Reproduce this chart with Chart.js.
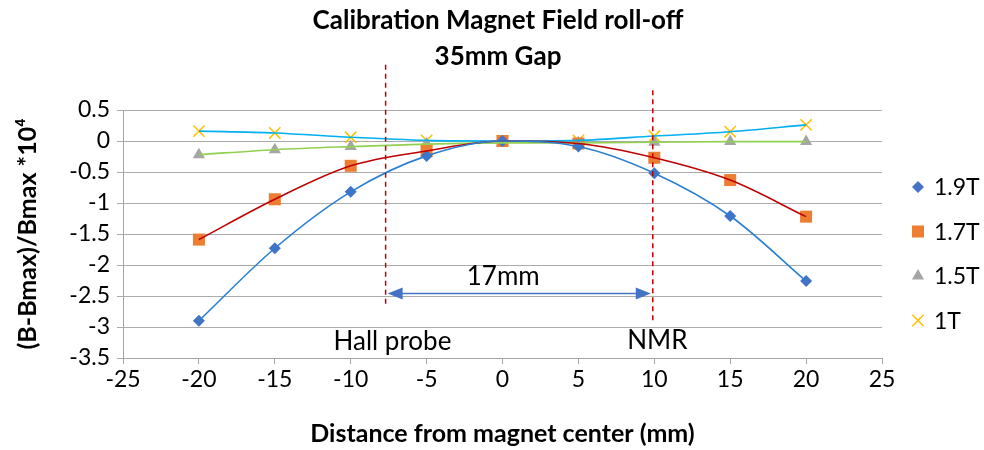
<!DOCTYPE html>
<html>
<head>
<meta charset="utf-8">
<script src="https://cdn.jsdelivr.net/npm/chart.js@4/dist/chart.umd.min.js"></script>
<style>
  body { margin: 0; background: #fff; }
  #c { display: block; }
</style>
</head>
<body>
<canvas id="c" width="984" height="450"></canvas>
<script>
// distance from magnet center (mm)
var positions = [-20, -15, -10, -5, 0, 5, 10, 15, 20];

// (B-Bmax)/Bmax * 10^4 for each field setting
var field19 = [-2.9, -1.73, -0.82, -0.24, 0, -0.09, -0.52, -1.21, -2.26];
var field17 = [-1.59, -0.94, -0.4, -0.16, 0, -0.04, -0.27, -0.63, -1.22];
var field15 = [-0.22, -0.14, -0.09, -0.05, -0.03, -0.03, -0.02, -0.01, -0.01];
var field10 = [0.16, 0.13, 0.06, 0.01, 0, 0.01, 0.08, 0.15, 0.26];

var seriesNames = ['1.9T', '1.7T', '1.5T', '1T'];
var markerColors = ['#4472C4', '#ED7D31', '#A5A5A5', '#FFC000'];
var trendColors = ['#2B7FD3', '#C00000', '#92D050', '#00B0F0'];
var markerStyles = ['rectRot', 'rect', 'triangle', 'crossRot'];
var markerSizes = [6, 8.5, 7, 8];

// probe positions and the annotation labels
var hallProbeX = -7.7;
var nmrX = 9.9;
var gapLabel = '17mm';

function pts(vals) {
  return positions.map(function(x, i) { return {x: x, y: vals[i]}; });
}

var allSeries = [field19, field17, field15, field10];
var datasets = [];
allSeries.forEach(function(vals, i) {
  datasets.push({
    label: seriesNames[i],
    data: pts(vals),
    showLine: false,
    pointStyle: markerStyles[i],
    pointRadius: markerSizes[i],
    pointHoverRadius: markerSizes[i],
    pointBackgroundColor: markerColors[i],
    pointBorderColor: markerColors[i],
    pointBorderWidth: markerStyles[i] == 'crossRot' ? 1.5 : 0,
    order: 2
  });
  datasets.push({
    label: seriesNames[i] + ' trend',
    data: pts(vals),
    showLine: true,
    pointRadius: 0,
    borderColor: trendColors[i],
    borderWidth: 1.6,
    cubicInterpolationMode: 'monotone',
    order: 1
  });
});

var font = "Lato, 'Open Sans', sans-serif";

var annotations = {
  id: 'annotations',
  afterDatasetsDraw: function(chart) {
    var ctx = chart.ctx;
    var xs = chart.scales.x, ys = chart.scales.y;
    ctx.save();
    // probe markers
    ctx.strokeStyle = '#C00000';
    ctx.lineWidth = 1.5;
    ctx.setLineDash([5, 4]);
    ctx.beginPath();
    ctx.moveTo(xs.getPixelForValue(hallProbeX), ys.getPixelForValue(1.23));
    ctx.lineTo(xs.getPixelForValue(hallProbeX), ys.getPixelForValue(-2.65));
    ctx.moveTo(xs.getPixelForValue(nmrX), ys.getPixelForValue(0.82));
    ctx.lineTo(xs.getPixelForValue(nmrX), ys.getPixelForValue(-2.9));
    ctx.stroke();
    ctx.setLineDash([]);

    // double arrow between them
    var x1 = xs.getPixelForValue(hallProbeX) + 2;
    var x2 = xs.getPixelForValue(nmrX) - 2;
    var ay = ys.getPixelForValue(-2.46);
    ctx.strokeStyle = '#4472C4';
    ctx.fillStyle = '#4472C4';
    ctx.lineWidth = 1.5;
    ctx.beginPath();
    ctx.moveTo(x1 + 10, ay);
    ctx.lineTo(x2 - 10, ay);
    ctx.stroke();
    ctx.beginPath();
    ctx.moveTo(x1, ay); ctx.lineTo(x1 + 15, ay - 6); ctx.lineTo(x1 + 15, ay + 6); ctx.closePath();
    ctx.moveTo(x2, ay); ctx.lineTo(x2 - 15, ay - 6); ctx.lineTo(x2 - 15, ay + 6); ctx.closePath();
    ctx.fill();

    ctx.fillStyle = '#000';
    ctx.font = '26px ' + font;
    ctx.textAlign = 'center';
    ctx.textBaseline = 'middle';
    ctx.fillText(gapLabel, xs.getPixelForValue(0.05), ys.getPixelForValue(-2.18));
    ctx.fillText('Hall probe', xs.getPixelForValue(-7.25), ys.getPixelForValue(-3.24));
    ctx.fillText('NMR', xs.getPixelForValue(10.2), ys.getPixelForValue(-3.22));

    // legend
    ctx.font = '23px ' + font;
    ctx.textAlign = 'left';
    seriesNames.forEach(function(name, i) {
      var ly = 187 + i * 44.5;
      ctx.fillStyle = markerColors[i];
      ctx.strokeStyle = markerColors[i];
      ctx.lineWidth = 1.5;
      Chart.helpers.drawPoint(ctx, {
        pointStyle: markerStyles[i],
        radius: markerSizes[i],
        rotation: 0,
        borderWidth: markerStyles[i] == 'crossRot' ? 1.5 : 0
      }, 918, ly);
      ctx.fillStyle = '#000';
      ctx.fillText(name, 934, ly + 1);
    });
    ctx.restore();
  }
};

new Chart(document.getElementById('c'), {
  type: 'scatter',
  data: { datasets: datasets },
  options: {
    responsive: false,
    animation: false,
    layout: { padding: { top: 110, right: 102, left: 0, bottom: 0 } },
    plugins: {
      legend: { display: false },
      tooltip: { enabled: false },
      title: { display: false }
    },
    scales: {
      x: {
        type: 'linear',
        min: -25,
        max: 25,
        ticks: { stepSize: 5, autoSkip: false, maxRotation: 0, color: '#000', font: { family: font, size: 23 }, padding: 2 },
        grid: { drawOnChartArea: false, drawTicks: true, tickLength: 6, color: '#A6A6A6' },
        border: { color: '#A6A6A6' },
        title: {
          display: true,
          text: 'Distance from magnet center (mm)',
          color: '#000',
          font: { family: font, size: 25, weight: 'bold' },
          padding: { top: 4, bottom: 1 }
        },
        afterFit: function(s) { s.height = 92; }
      },
      y: {
        min: -3.5,
        max: 0.5,
        ticks: {
          stepSize: 0.5, autoSkip: false, color: '#000', font: { family: font, size: 23 }, padding: 7,
          callback: function(v) { return String(Number(v.toFixed(1))); }
        },
        grid: { color: '#ABABAB', tickLength: 6 },
        border: { color: '#A6A6A6' },
        title: {
          display: true,
          text: '(B-Bmax)/Bmax *10\u2074',
          color: '#000',
          font: { family: font, size: 25, weight: 'bold' },
          padding: { top: 13, bottom: 4 }
        },
        afterFit: function(s) { s.width = 123; }
      }
    }
  },
  plugins: [annotations, {
    id: 'heading',
    afterDraw: function(chart) {
      var ctx = chart.ctx;
      ctx.save();
      ctx.fillStyle = '#000';
      ctx.font = 'bold 26px ' + font;
      ctx.textAlign = 'center';
      ctx.textBaseline = 'middle';
      ctx.fillText('Calibration Magnet Field roll-off', 498, 21);
      ctx.fillText('35mm Gap', 498, 57);
      ctx.restore();
    }
  }]
});
</script>
</body>
</html>
